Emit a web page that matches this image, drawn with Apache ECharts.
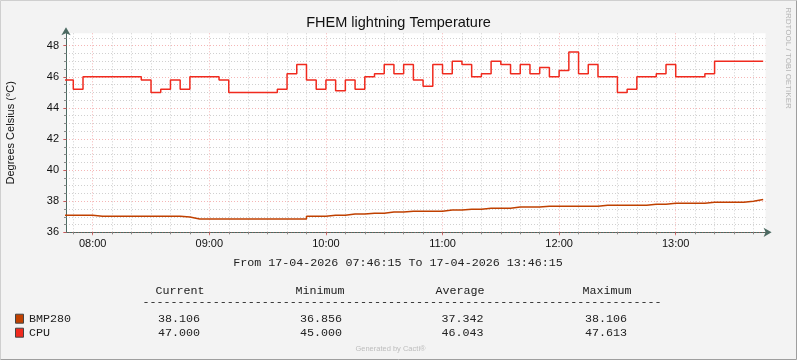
<!DOCTYPE html>
<html>
<head>
<meta charset="utf-8">
<script src="https://cdn.jsdelivr.net/npm/echarts@6/dist/echarts.min.js"></script>
<style>
html,body{margin:0;padding:0;background:#F3F3F3;}
#chart{width:797px;height:360px;}
</style>
</head>
<body>
<div id="chart"></div>
<script>
// ---- data ----
const titleText = 'FHEM lightning Temperature';
const yAxisName = 'Degrees Celsius (°C)';
const rangeText = 'From 17-04-2026 07:46:15 To 17-04-2026 13:46:15';
const sideText = 'RRDTOOL / TOBI OETIKER';
const footerText = 'Generated by Cacti®';

const windowStart = '07:46:15';
const windowEnd = '13:46:15';
const firstSample = '07:45';
const sampleStepMin = 5;

const yTickLabels = [36, 38, 40, 42, 44, 46, 48];
const hourLabels = ['08:00', '09:00', '10:00', '11:00', '12:00', '13:00'];

const seriesNames = ['BMP280', 'CPU'];
const seriesColors = ['#C04000', '#F02A1E'];

// 5-minute samples, each value holds until the next sample; last entry marks the end
const bmp280 = [
  37.10, 37.10, 37.10, 37.04, 37.04, 37.04, 37.04, 37.04, 37.04, 37.04,
  37.04, 37.04, 36.98, 36.856, 36.856, 36.856, 36.856, 36.856, 36.856, 36.856,
  36.856, 36.856, 36.856, 36.856, 36.856, 37.04, 37.04, 37.10, 37.10, 37.17,
  37.17, 37.23, 37.23, 37.30, 37.30, 37.36, 37.36, 37.36, 37.36, 37.43,
  37.43, 37.49, 37.49, 37.55, 37.55, 37.55, 37.62, 37.62, 37.62, 37.68,
  37.68, 37.68, 37.68, 37.68, 37.68, 37.74, 37.74, 37.74, 37.74, 37.74,
  37.81, 37.81, 37.87, 37.87, 37.87, 37.87, 37.94, 37.94, 37.94, 37.94,
  38.00, 38.106, 38.106
];
const cpu = [
  45.8, 45.2, 46.0, 46.0, 46.0, 46.0, 46.0, 46.0, 45.8, 45.0,
  45.2, 45.8, 45.2, 46.0, 46.0, 46.0, 45.8, 45.0, 45.0, 45.0,
  45.0, 45.0, 45.2, 46.2, 46.8, 45.8, 45.2, 45.8, 45.1, 45.8,
  45.2, 46.0, 46.2, 46.8, 46.2, 46.8, 45.8, 45.4, 46.8, 46.2,
  47.0, 46.8, 46.0, 46.2, 47.0, 46.8, 46.2, 46.8, 46.2, 46.6,
  46.0, 46.4, 47.6, 46.2, 46.8, 46.0, 46.0, 45.0, 45.2, 46.0,
  46.0, 46.2, 46.8, 46.0, 46.0, 46.0, 46.2, 47.0, 47.0, 47.0,
  47.0, 47.0, 47.0
];

const legendHeaders = ['Current', 'Minimum', 'Average', 'Maximum'];
const legendBMP280 = ['38.106', '36.856', '37.342', '38.106'];
const legendCPU = ['47.000', '45.000', '46.043', '47.613'];

// ---- helpers ----
function toMin(s) {
  const p = s.split(':').map(Number);
  return p[0] * 60 + p[1] + (p[2] || 0) / 60;
}
function fmtHM(m) {
  const h = Math.floor(m / 60), mm = Math.round(m % 60);
  return (h < 10 ? '0' : '') + h + ':' + (mm < 10 ? '0' : '') + mm;
}
const xMin = toMin(windowStart), xMax = toMin(windowEnd);
const t0 = toMin(firstSample);
const pairs = arr => arr.map((v, i) => [t0 + i * sampleStepMin, v]);

const minorX = [];
for (let m = Math.ceil(xMin / 10) * 10; m <= xMax; m += 10) minorX.push(m);
const hourX = hourLabels.map(toMin);
const minorY = [];
for (let v = 36; v <= 48.5; v += 0.5) minorY.push(v);

const mono = 'Liberation Mono, DejaVu Sans Mono, monospace';
const sans = 'Liberation Sans, Arial, sans-serif';

const minorStyle = { color: 'rgba(150,150,150,0.45)', type: [1, 2], width: 1 };
const majorStyle = { color: 'rgba(230,80,80,0.42)', type: [1, 2], width: 1 };

const gridLines = [];
minorX.forEach(v => { if (hourX.indexOf(v) < 0) gridLines.push({ xAxis: v, lineStyle: minorStyle }); });
minorY.forEach(v => { if (yTickLabels.indexOf(v) < 0) gridLines.push({ yAxis: v, lineStyle: minorStyle }); });
hourX.forEach(v => gridLines.push({ xAxis: v, lineStyle: majorStyle }));
yTickLabels.forEach(v => gridLines.push({ yAxis: v, lineStyle: majorStyle }));

// legend table graphics
const colX = [200, 342, 483.5, 627]; // right edges
const headerX = [180, 320, 460, 607];    // centers
const rowY = [318.7, 332.7];
const rows = [legendBMP280, legendCPU];
const legendGraphics = [];
legendHeaders.forEach((h, i) => legendGraphics.push({
  type: 'text', x: headerX[i], y: 291,
  style: { text: h, font: '11.7px ' + mono, fill: '#222', align: 'center', verticalAlign: 'middle' }
}));
legendGraphics.push({
  type: 'text', x: 142.5, y: 301.5,
  style: { text: '-'.repeat(74), font: '11.7px ' + mono, fill: '#222', align: 'left', verticalAlign: 'middle' }
});
seriesNames.forEach((n, r) => {
  legendGraphics.push({
    type: 'rect', shape: { x: 15.5, y: rowY[r] - 4.5, width: 8, height: 9 },
    style: { fill: seriesColors[r], stroke: '#444', lineWidth: 1 }
  });
  legendGraphics.push({
    type: 'text', x: 29, y: rowY[r],
    style: { text: n, font: '11.7px ' + mono, fill: '#222', align: 'left', verticalAlign: 'middle' }
  });
  rows[r].forEach((v, c) => legendGraphics.push({
    type: 'text', x: colX[c], y: rowY[r],
    style: { text: v, font: '11.7px ' + mono, fill: '#222', align: 'right', verticalAlign: 'middle' }
  }));
});

const chart = echarts.init(document.getElementById('chart'), null, { renderer: 'canvas' });
const gridLeft = 66, gridRight = 797 - 765.6, gridTop = 33.3, gridH = 199;

const option = {
  backgroundColor: '#F3F3F3',
  animation: false,
  title: {
    text: titleText, left: 'center', top: 10,
    textStyle: { fontFamily: sans, fontSize: 14.5, fontWeight: 'normal', color: '#111' }
  },
  grid: {
    left: gridLeft, right: gridRight, top: gridTop, height: gridH,
    show: true, backgroundColor: '#FFFFFF', borderWidth: 0,
    containLabel: false, outerBoundsMode: 'none'
  },
  xAxis: [
    {
      type: 'value', min: xMin, max: xMax, position: 'bottom',
      axisLine: { show: true, lineStyle: { color: '#4C6A62', width: 1 }, symbol: ['none', 'arrow'], symbolSize: [7, 8], symbolOffset: [0, 6] },
      axisTick: { show: true, customValues: minorX, length: 2, inside: false, lineStyle: { color: '#8A8A8A' } },
      axisLabel: { show: false },
      splitLine: { show: false }
    },
    {
      type: 'value', min: xMin, max: xMax, position: 'bottom',
      axisLine: { show: false },
      axisTick: { show: true, customValues: hourX, length: 3, lineStyle: { color: 'rgba(220,60,60,0.6)' } },
      axisLabel: { show: true, customValues: hourX, formatter: v => fmtHM(v), fontFamily: sans, fontSize: 11, color: '#111', margin: 6 },
      splitLine: { show: false }
    }
  ],
  yAxis: [
    {
      type: 'value', min: 36, max: 48.8, position: 'left',
      axisLine: { show: true, lineStyle: { color: '#4C6A62', width: 1 }, symbol: ['none', 'arrow'], symbolSize: [7, 8], symbolOffset: [0, 6] },
      axisTick: { show: true, customValues: minorY, length: 2, lineStyle: { color: '#8A8A8A' } },
      axisLabel: { show: false },
      splitLine: { show: false }
    },
    {
      type: 'value', min: 36, max: 48.8, position: 'left',
      name: yAxisName, nameLocation: 'middle', nameRotate: 90, nameGap: 50,
      nameTextStyle: { fontFamily: sans, fontSize: 11, color: '#111' },
      axisLine: { show: false },
      axisTick: { show: true, customValues: yTickLabels, length: 3, lineStyle: { color: 'rgba(220,60,60,0.6)' } },
      axisLabel: { show: true, customValues: yTickLabels, fontFamily: sans, fontSize: 11, color: '#111', margin: 7 },
      splitLine: { show: false }
    }
  ],
  series: [
    {
      name: 'grid', type: 'line', data: [], xAxisIndex: 0, yAxisIndex: 0, z: 1, silent: true,
      markLine: {
        silent: true, animation: false, symbol: ['none', 'none'], label: { show: false },
        emphasis: { disabled: true }, data: gridLines
      }
    },
    {
      name: seriesNames[0], type: 'line', step: 'end', data: pairs(bmp280),
      xAxisIndex: 0, yAxisIndex: 0, showSymbol: false, symbol: 'none', z: 5,
      lineStyle: { color: seriesColors[0], width: 1.5 }
    },
    {
      name: seriesNames[1], type: 'line', step: 'end', data: pairs(cpu),
      xAxisIndex: 0, yAxisIndex: 0, showSymbol: false, symbol: 'none', z: 6,
      lineStyle: { color: seriesColors[1], width: 1.5 }
    }
  ],
  graphic: [
    { type: 'polyline', shape: { points: [[0.5, 359.5], [0.5, 0.5], [796.5, 0.5]] }, style: { stroke: '#CFCFCF', fill: null, lineWidth: 1 } },
    { type: 'polyline', shape: { points: [[0.5, 359.5], [796.5, 359.5], [796.5, 0.5]] }, style: { stroke: '#9E9E9E', fill: null, lineWidth: 1 } },
    { type: 'text', x: 398, y: 263, style: { text: rangeText, font: '11.7px ' + mono, fill: '#222', align: 'center', verticalAlign: 'middle' } },
    { type: 'text', x: 788, y: 58, rotation: -Math.PI / 2, style: { text: sideText, font: '8px ' + sans, fill: '#B5B5B5', align: 'center', verticalAlign: 'middle' } },
    { type: 'text', x: 390.5, y: 349, style: { text: footerText, font: '7.5px ' + sans, fill: '#BDBDBD', align: 'center', verticalAlign: 'middle' } }
  ].concat(legendGraphics)
};
chart.setOption(option);
</script>
</body>
</html>
